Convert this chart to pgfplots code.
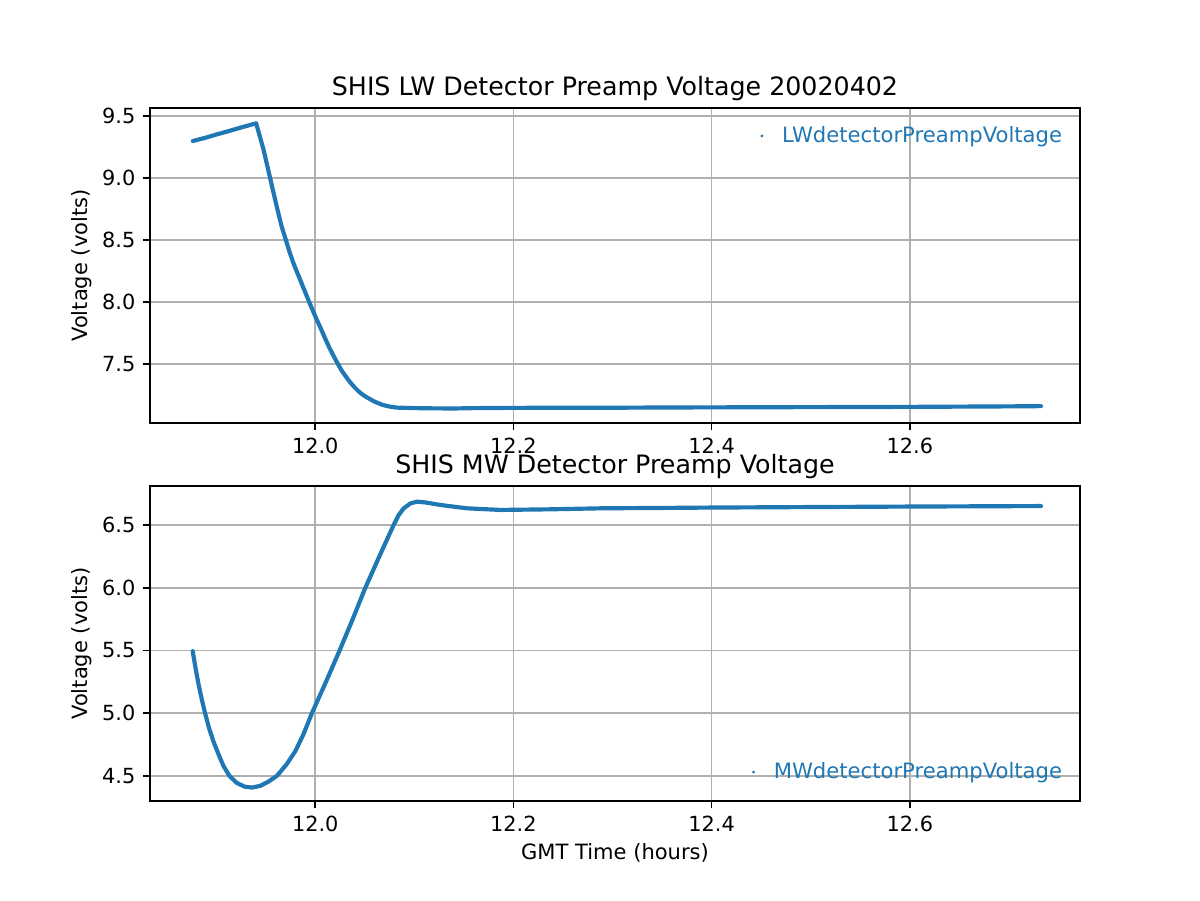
\documentclass[border=0pt]{standalone}
\usepackage{fontspec}
\setmainfont{DejaVu Sans}
\usepackage{pgfplots}
\pgfplotsset{compat=1.18}
\definecolor{mplblue}{HTML}{1F77B4}
\definecolor{gridgray}{HTML}{B0B0B0}

\pgfplotstableread{
x y
11.8765 9.298
11.8900 9.326
11.9000 9.350
11.9100 9.372
11.9200 9.395
11.9300 9.418
11.9404 9.441
11.9478 9.231
11.9545 9.000
11.9579 8.882
11.9620 8.742
11.9660 8.613
11.9704 8.500
11.9737 8.414
11.9771 8.333
11.9805 8.263
11.9838 8.199
11.9872 8.132
11.9906 8.065
11.9939 8.000
11.9976 7.930
12.0017 7.855
12.0057 7.785
12.0098 7.710
12.0141 7.634
12.0185 7.565
12.0229 7.500
12.0269 7.444
12.0310 7.398
12.0350 7.355
12.0391 7.317
12.0434 7.282
12.0475 7.255
12.0515 7.234
12.0556 7.215
12.0599 7.196
12.0640 7.183
12.0684 7.169
12.0724 7.161
12.0774 7.153
12.0825 7.148
12.1000 7.144
12.1200 7.142
12.1400 7.141
12.1600 7.144
12.2000 7.146
12.2500 7.147
12.3000 7.147
12.3500 7.149
12.4000 7.150
12.4500 7.151
12.5000 7.152
12.5500 7.153
12.6000 7.154
12.6500 7.156
12.7000 7.158
12.7323 7.160
}\lwdata

\pgfplotstableread{
x y
11.8764 5.495
11.8791 5.367
11.8822 5.233
11.8855 5.113
11.8889 4.999
11.8929 4.881
11.8973 4.775
11.9024 4.673
11.9074 4.580
11.9135 4.500
11.9209 4.444
11.9286 4.415
11.9360 4.407
11.9444 4.420
11.9529 4.455
11.9613 4.500
11.9707 4.588
11.9798 4.695
11.9882 4.833
11.9966 4.999
12.0108 5.249
12.0246 5.500
12.0377 5.748
12.0505 5.999
12.0646 6.249
12.0791 6.500
12.0842 6.580
12.0892 6.633
12.0960 6.673
12.1027 6.687
12.1111 6.681
12.1229 6.665
12.1347 6.652
12.1532 6.634
12.1869 6.621
12.2374 6.626
12.2879 6.634
12.3500 6.637
12.4000 6.640
12.5000 6.644
12.6000 6.648
12.7000 6.651
12.7323 6.652
}\mwdata

\pgfplotsset{
  mpl/.style={
    scale only axis, width=446.4bp, height=151.2bp,
    axis line style={line width=0.8bp, black},
    every tick/.style={black, line width=0.8bp},
    tick align=outside, major tick length=3.5bp,
    xtick pos=left, ytick pos=left,
    grid=major, grid style={gridgray, line width=0.8bp},
    xmin=11.8333, xmax=12.7717,
    xtick={12.0,12.2,12.4,12.6},
    scaled ticks=false,
    /pgf/number format/assume math mode=true,
    xticklabel style={/pgf/number format/fixed, /pgf/number format/fixed zerofill, /pgf/number format/precision=1},
    yticklabel style={/pgf/number format/fixed, /pgf/number format/fixed zerofill, /pgf/number format/precision=1},
    tick label style={font=\fontsize{10bp}{12bp}\selectfont},
    label style={font=\fontsize{10.1bp}{12bp}\selectfont},
    title style={font=\fontsize{12.15bp}{14bp}\selectfont, at={(axis description cs:0.5,1)}, anchor=base, inner sep=0pt},
    ylabel style={at={(axis description cs:-0.073,0.5)}, anchor=center, inner sep=0pt},
    legend style={draw=none, fill=none, text=mplblue, font=\fontsize{10.15bp}{12bp}\selectfont,
      inner sep=0pt, outer sep=0pt, column sep=0pt, nodes={inner sep=0pt, outer sep=0pt}},
  },
  dotlegend/.style={
    legend image code/.code={
      \path[draw=none, fill=none] (-0.8bp,-0.8bp) rectangle (9.7bp,0.8bp);
      \fill[mplblue, draw=none] (0bp,0bp) circle (0.75bp);
    },
  },
}

\begin{document}
\begin{tikzpicture}
\useasboundingbox (0,0) rectangle (576bp,432bp);
\begin{axis}[mpl, at={(72bp,228.96bp)}, anchor=south west,
  ymin=7.024, ymax=9.5645,
  ytick={7.5,8.0,8.5,9.0,9.5},
  title={SHIS LW Detector Preamp Voltage 20020402},
  ylabel={Voltage (volts)},
  legend style={at={(axis description cs:1,0.9114)}, anchor=east, xshift=-8.6bp},
]
\addplot[mplblue, line width=2bp, line join=round, line cap=round, dotlegend] table[x=x,y=y] {\lwdata};
\addlegendentry{LWdetectorPreampVoltage}
\end{axis}
\begin{axis}[mpl, at={(72bp,47.52bp)}, anchor=south west,
  ymin=4.30, ymax=6.812,
  ytick={4.5,5.0,5.5,6.0,6.5},
  title={SHIS MW Detector Preamp Voltage},
  ylabel={Voltage (volts)},
  xlabel={GMT Time (hours)},
  xlabel style={at={(axis description cs:0.5,0)}, anchor=base, yshift=-28.3bp, inner sep=0pt},
  legend style={at={(axis description cs:1,0.092)}, anchor=east, xshift=-8.6bp},
]
\addplot[mplblue, line width=2bp, line join=round, line cap=round, dotlegend] table[x=x,y=y] {\mwdata};
\addlegendentry{MWdetectorPreampVoltage}
\end{axis}
\end{tikzpicture}
\end{document}
